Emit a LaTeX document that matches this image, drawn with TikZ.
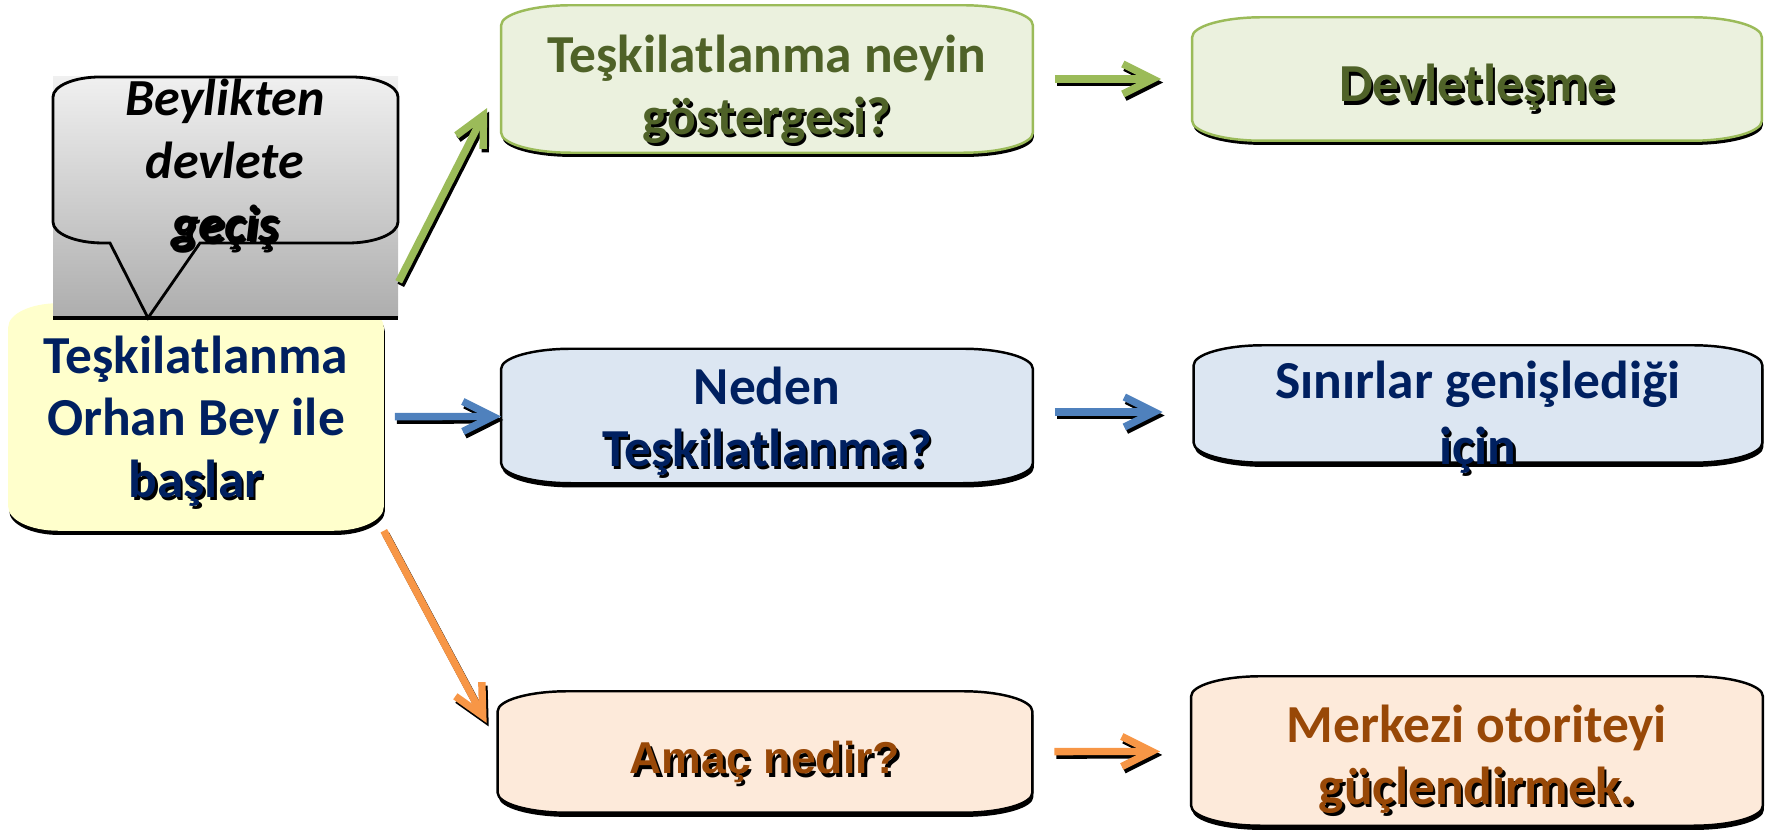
\documentclass[tikz,border=0pt]{standalone}
\usepackage{fontspec}
\setmainfont{Carlito}
\newfontfamily\arialfont{Liberation Sans}
\usetikzlibrary{arrows.meta,backgrounds,shadows}

\definecolor{grnline}{HTML}{9BBB59}
\definecolor{grnfill}{HTML}{EBF1DE}
\definecolor{grntext}{HTML}{4F6228}
\definecolor{bluline}{HTML}{4F81BD}
\definecolor{blufill}{HTML}{DCE6F2}
\definecolor{blutext}{HTML}{002060}
\definecolor{orgline}{HTML}{F79646}
\definecolor{orgfill}{HTML}{FDEADA}
\definecolor{orgtext}{HTML}{984807}
\definecolor{ylwfill}{HTML}{FFFFCC}

% text with a black drop shadow
\newcommand{\shd}[1]{\leavevmode\rlap{\kern0.7pt\raisebox{-1pt}{\color{black}#1}}#1}

% flat box with elliptic corners round a named node
\newcommand{\boxpath}[3]{([yshift=-#3]#1.north west) arc[start angle=180,end angle=90,x radius=#2,y radius=#3]
  -- ([xshift=-#2]#1.north east) arc[start angle=90,end angle=0,x radius=#2,y radius=#3]
  -- ([yshift=#3]#1.south east) arc[start angle=0,end angle=-90,x radius=#2,y radius=#3]
  -- ([xshift=#2]#1.south west) arc[start angle=270,end angle=180,x radius=#2,y radius=#3] -- cycle}

\tikzset{
  panel/.style 2 args={minimum width=#1, minimum height=#2, inner sep=0pt},
  txt/.style={align=center, inner sep=0pt, font=\fontsize{15.2pt}{17.5pt}\selectfont\bfseries},
  boxshadow/.style={drop shadow={opacity=1, fill=black, shadow xshift=0.3pt, shadow yshift=-1.2pt}},
  arr/.style={line width=2.1pt, -{Straight Barb[length=0.3cm,width=0.3cm]}},
  arrshadow/.style={arr, black, transform canvas={xshift=0.6pt,yshift=-1pt}},
  hconn/.style={shorten <=0.22cm, shorten >=0.31cm},
}

\begin{document}
\begin{tikzpicture}[x=0.01cm,y=-0.01cm]
\useasboundingbox (0,0) rectangle (1768,834);

% boxes
\node[panel={3.74cm}{2.26cm}] (start) at (196,417) {};
\node[panel={5.30cm}{1.46cm}] (q1) at (767,79) {};
\node[panel={5.68cm}{1.22cm}] (a1) at (1477,79) {};
\node[panel={5.30cm}{1.33cm}] (q2) at (767,416) {};
\node[panel={5.67cm}{1.16cm}] (a2) at (1478,404) {};
\node[panel={5.33cm}{1.20cm}] (q3) at (765,752) {};
\node[panel={5.70cm}{1.48cm}] (a3) at (1477,751) {};

\begin{scope}[on background layer]
\path[fill=ylwfill, boxshadow] \boxpath{start}{0.5cm}{0.24cm};
\foreach \n/\f/\d in {q1/grnfill/grnline, a1/grnfill/grnline, q2/blufill/black, a2/blufill/black, q3/orgfill/black, a3/orgfill/black}
  \path[fill=\f, draw=\d, line width=0.7pt, boxshadow] \boxpath{\n}{0.7cm}{0.2cm};
\end{scope}

% texts
\node[txt, text=blutext] (starttxt) at (196,423) {Teşkilatlanma\\Orhan Bey ile\\\shd{başlar}};
\node[txt, text=grntext] (q1txt) at (767,91) {Teşkilatlanma neyin\\\shd{göstergesi?}};
\node[txt, text=grntext] (a1txt) at (1477,89) {\shd{Devletleşme}};
\node[txt, text=blutext] (q2txt) at (767,423) {Neden\\\shd{Teşkilatlanma?}};
\node[txt, text=blutext, font=\fontsize{15.2pt}{18.5pt}\selectfont\bfseries] (a2txt) at (1478,419) {Sınırlar genişlediği\\\shd{için}};
\node[txt, text=orgtext, font=\arialfont\fontsize{12.7pt}{15pt}\selectfont\bfseries] (q3txt) at (765,764) {\shd{Amaç nedir?}};
\node[txt, text=orgtext] (a3txt) at (1477,761) {Merkezi otoriteyi\\\shd{güçlendirmek.}};

% speech bubble
\fill[top color=black!6, bottom color=black!32] (53,77) rectangle (398,318);
\draw[line width=1.2pt] (53,318) -- (398,318);
\draw[line width=0.8pt] (53,222) -- (53,97) arc[start angle=180,end angle=90,x radius=0.47cm,y radius=0.2cm]
  -- (351,77) arc[start angle=90,end angle=0,x radius=0.47cm,y radius=0.2cm]
  -- (398,222) arc[start angle=0,end angle=-90,x radius=0.5cm,y radius=0.21cm]
  -- (200,243) -- (148,318) -- (110,243) -- (103,243) arc[start angle=270,end angle=180,x radius=0.5cm,y radius=0.21cm];
\node[align=center, inner sep=0pt, font=\fontsize{14.8pt}{17.9pt}\selectfont\bfseries\itshape] (bubble) at (225,166) {Beylikten\\devlete\\\shd{geçiş}};

% connectors
\coordinate (gto) at ([xshift=-0.14cm,yshift=-0.29cm]q1.west);
\coordinate (oto) at ([xshift=-0.11cm,yshift=0.29cm]q3.west);

\draw[arrshadow, shorten <=0.24cm] ([xshift=0.04cm]start.north east) -- (gto);
\draw[arr, grnline, shorten <=0.24cm] ([xshift=0.04cm]start.north east) -- (gto);
\draw[arrshadow] (start.south east) -- (oto);
\draw[arr, orgline] (start.south east) -- (oto);
\draw[arrshadow, shorten <=0.11cm] (start) -- (q2);
\draw[arr, bluline, shorten <=0.11cm] (start) -- (q2);

\draw[arrshadow, hconn] (q1) -- (a1);
\draw[arr, grnline, hconn] (q1) -- (a1);
\draw[arrshadow, hconn] ([yshift=0.04cm]q2.east) -- ([yshift=0.04cm]q2.east -| a2.west);
\draw[arr, bluline, hconn] ([yshift=0.04cm]q2.east) -- ([yshift=0.04cm]q2.east -| a2.west);
\draw[arrshadow, hconn] (q3) -- (a3);
\draw[arr, orgline, hconn] (q3) -- (a3);
\end{tikzpicture}
\end{document}
